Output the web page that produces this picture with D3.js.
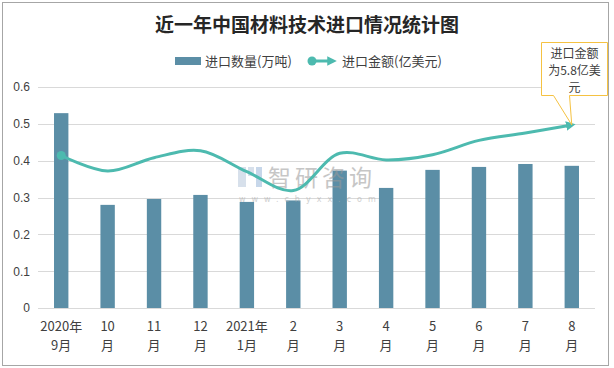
<!DOCTYPE html>
<html>
<head>
<meta charset="utf-8">
<script src="https://cdn.jsdelivr.net/npm/d3@7"></script>
<style>
  body { margin: 0; background: #fff; }
  text { font-family: "Noto Sans CJK SC", "Microsoft YaHei", sans-serif; }
</style>
</head>
<body>
<div id="chart"></div>
<script>
// months on the x axis (two lines each)
const months = ["2020年|9月", "10|月", "11|月", "12|月", "2021年|1月", "2|月", "3|月", "4|月", "5|月", "6|月", "7|月", "8|月"];
// 进口数量(万吨)
const quantity = [0.529, 0.280, 0.296, 0.307, 0.288, 0.292, 0.373, 0.326, 0.375, 0.383, 0.391, 0.386];
// 进口金额(亿美元)
const amount = [0.414, 0.372, 0.408, 0.427, 0.370, 0.319, 0.420, 0.402, 0.416, 0.455, 0.475, 0.497];
const yTicks = [0, 0.1, 0.2, 0.3, 0.4, 0.5, 0.6];

const width = 614, height = 368;
const margin = {top: 87, right: 19, bottom: 60, left: 38};

const svg = d3.select("#chart").append("svg")
    .attr("width", width)
    .attr("height", height);

// outer frame
svg.append("rect")
    .attr("x", 2.5).attr("y", 2.5)
    .attr("width", 606).attr("height", 363)
    .attr("fill", "#fff")
    .attr("stroke", "#a6a6a6");

const xScale = d3.scaleBand()
    .domain(months)
    .range([margin.left, width - margin.right])
    .paddingInner(0.69)
    .paddingOuter(0.345);

const yScale = d3.scaleLinear()
    .domain([0, 0.6])
    .range([height - margin.bottom, margin.top]);

// grid lines
svg.append("g")
    .selectAll("line")
    .data(yTicks)
    .join("line")
        .attr("x1", margin.left)
        .attr("x2", width - margin.right)
        .attr("y1", d => Math.round(yScale(d)) + 0.5)
        .attr("y2", d => Math.round(yScale(d)) + 0.5)
        .attr("stroke", "#d9d9d9");

// y axis labels
const yAxis = d3.axisLeft(yScale).tickValues(yTicks).tickSize(0).tickPadding(8)
    .tickFormat(d => d === 0 ? "0" : d3.format(".1f")(d));
svg.append("g")
    .attr("transform", `translate(${margin.left},0)`)
    .call(yAxis)
    .call(g => g.select(".domain").remove())
    .call(g => g.selectAll("text")
        .attr("font-size", 12)
        .attr("fill", "#404040")
        .style("font-family", "'Liberation Sans', Arial, sans-serif"));

// bars
svg.append("g")
    .attr("fill", "#5b8ea6")
    .selectAll("rect")
    .data(quantity)
    .join("rect")
        .attr("x", (d, i) => xScale(months[i]))
        .attr("y", d => yScale(d))
        .attr("width", xScale.bandwidth())
        .attr("height", d => yScale(0) - yScale(d));

// watermark
const wm = svg.append("g").attr("opacity", 0.55);
wm.append("rect").attr("x", 238).attr("y", 167).attr("width", 8).attr("height", 20).attr("fill", "#b8c8dc");
wm.append("rect").attr("x", 248).attr("y", 167).attr("width", 6).attr("height", 9).attr("fill", "#b8c8dc");
wm.append("rect").attr("x", 256).attr("y", 167).attr("width", 6).attr("height", 20).attr("fill", "#9bb8da");
wm.append("text").attr("x", 268).attr("y", 186)
    .attr("font-size", 23).attr("fill", "#999")
    .attr("letter-spacing", 4)
    .text("智研咨询");
wm.append("text").attr("x", 239).attr("y", 202)
    .attr("font-size", 8).attr("fill", "#aaa")
    .attr("letter-spacing", 6)
    .style("font-family", "'DejaVu Sans', sans-serif")
    .text("www.chyxx.com");

// x axis labels
const xLabels = svg.append("g")
    .selectAll("text")
    .data(months)
    .join("text")
        .attr("x", d => xScale(d) + xScale.bandwidth() / 2)
        .attr("y", 331)
        .attr("text-anchor", "middle")
        .attr("font-size", 13)
        .attr("fill", "#404040");
xLabels.append("tspan")
    .attr("x", d => xScale(d) + xScale.bandwidth() / 2)
    .text(d => d.split("|")[0]);
xLabels.append("tspan")
    .attr("x", d => xScale(d) + xScale.bandwidth() / 2)
    .attr("dy", 19)
    .text(d => d.split("|")[1]);

// amount line
const lineColor = "#4dbaaf";
svg.append("defs").append("marker")
    .attr("id", "arrow")
    .attr("viewBox", "0 0 10 10")
    .attr("refX", 6).attr("refY", 5)
    .attr("markerWidth", 3.2).attr("markerHeight", 3.2)
    .attr("orient", "auto")
    .append("path")
        .attr("d", "M0,0 L10,5 L0,10 Z")
        .attr("fill", lineColor);

const line = d3.line()
    .x((d, i) => xScale(months[i]) + xScale.bandwidth() / 2)
    .y(d => yScale(d))
    .curve(d3.curveCatmullRom.alpha(0.5));

svg.append("path")
    .datum(amount)
    .attr("d", line)
    .attr("fill", "none")
    .attr("stroke", lineColor)
    .attr("stroke-width", 3)
    .attr("marker-end", "url(#arrow)");

svg.append("circle")
    .attr("cx", xScale(months[0]) + xScale.bandwidth() / 2)
    .attr("cy", yScale(amount[0]))
    .attr("r", 4.5)
    .attr("fill", lineColor);

// callout for the last point
const lastX = xScale(months[11]) + xScale.bandwidth() / 2;
const lastY = yScale(amount[11]);
const box = {x: 541.5, y: 42.5, w: 66, h: 53};
svg.append("path")
    .attr("d", `M${box.x},${box.y} H${box.x + box.w} V${box.y + box.h} H${box.x + 28} L${lastX},${lastY} L${box.x + 12},${box.y + box.h} H${box.x} Z`)
    .attr("fill", "#fff")
    .attr("stroke", "#f5c242")
    .attr("stroke-width", 1);
const callText = svg.append("text")
    .attr("text-anchor", "middle")
    .attr("font-size", 12)
    .attr("fill", "#404040");
["进口金额", "为5.8亿美", "元"].forEach((t, i) => {
    callText.append("tspan")
        .attr("x", box.x + box.w / 2)
        .attr("y", box.y + 15 + i * 17)
        .text(t);
});

// title
svg.append("text")
    .attr("x", 307)
    .attr("y", 32)
    .attr("text-anchor", "middle")
    .attr("font-size", 19)
    .attr("font-weight", "bold")
    .attr("fill", "#262626")
    .text("近一年中国材料技术进口情况统计图");

// legend
const legend = svg.append("g").attr("font-size", 13).attr("fill", "#404040");
legend.append("rect").attr("x", 175).attr("y", 57).attr("width", 26).attr("height", 8).attr("fill", "#5b8ea6");
legend.append("text").attr("x", 205).attr("y", 66).text("进口数量(万吨)");
legend.append("line").attr("x1", 312).attr("x2", 333).attr("y1", 61).attr("y2", 61)
    .attr("stroke", lineColor).attr("stroke-width", 3).attr("marker-end", "url(#arrow)");
legend.append("circle").attr("cx", 312).attr("cy", 61).attr("r", 4.5).attr("fill", lineColor);
legend.append("text").attr("x", 342).attr("y", 66).text("进口金额(亿美元)");
</script>
</body>
</html>
